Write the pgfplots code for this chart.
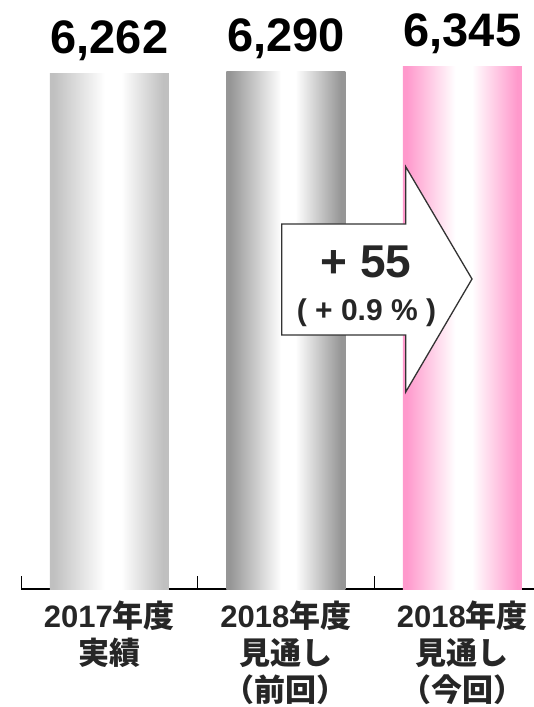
\documentclass[border=0pt]{standalone}
\usepackage{pgfplots}
\pgfplotsset{compat=1.18}
\usepackage{fontspec}
\setmainfont{Liberation Sans}
\newfontfamily\cjk{Noto Sans CJK JP}
\definecolor{gA}{RGB}{192,192,192}
\definecolor{gB}{RGB}{150,150,150}
\definecolor{pC}{RGB}{255,153,204}
\definecolor{txt}{RGB}{38,38,38}
\definecolor{arr}{RGB}{51,51,51}
\pgfdeclarehorizontalshading{barA}{100bp}{color(0bp)=(gA); color(26.5bp)=(gA); color(48bp)=(white); color(55bp)=(white); color(72.5bp)=(gA); color(100bp)=(gA)}
\pgfdeclarehorizontalshading{barB}{100bp}{color(0bp)=(gB); color(26.5bp)=(gB); color(48bp)=(white); color(54bp)=(white); color(73bp)=(gB); color(100bp)=(gB)}
\pgfdeclarehorizontalshading{barC}{100bp}{color(0bp)=(pC); color(26.5bp)=(pC); color(47bp)=(white); color(54bp)=(white); color(73bp)=(pC); color(100bp)=(pC)}
\begin{document}
\begin{tikzpicture}
\useasboundingbox (0,0) rectangle (534pt,707pt);
\begin{axis}[
  at={(21.2pt,117.7pt)}, anchor=south west,
  scale only axis, width=512.8pt, height=589.3pt,
  xmin=-0.5, xmax=2.4054, ymin=403, ymax=7103.4,
  axis x line*=bottom, axis y line=none,
  axis line style={line width=2.4pt, black},
  xtick={0,1,2},
  xticklabels={
    {2017{\cjk 年度}\\{\cjk 実績}},
    {2018{\cjk 年度}\\{\cjk 見通し}\\{\cjk （前回）}},
    {2018{\cjk 年度}\\{\cjk 見通し}\\{\cjk （今回）}}},
  minor xtick={-0.5,0.5,1.5},
  tick align=inside,
  major tick length=0pt,
  minor tick length=13pt,
  minor tick style={line width=1.4pt, black},
  ytick=\empty,
  xticklabel style={align=center, anchor=north, text=txt, yshift=-8pt,
    font=\fontsize{31}{37}\selectfont\bfseries},
  every node near coord/.append style={anchor=base, yshift=20pt, inner sep=0pt,
    text=black, font=\fontsize{47}{50}\selectfont\bfseries},
]
\addplot[ybar, bar width=119pt, bar shift=0pt, draw=none, shade, shading=barA] coordinates {(0,6262)};
\addplot[ybar, bar width=119pt, bar shift=0pt, draw=none, shade, shading=barB] coordinates {(1,6290)};
\addplot[ybar, bar width=119pt, bar shift=0pt, draw=none, shade, shading=barC] coordinates {(2,6345)};
\addplot[draw=none, mark=none, nodes near coords={\pgfmathprintnumber[fixed, precision=0, 1000 sep={,}, assume math mode=true]{\pgfplotspointmeta}}] coordinates {(0,6262) (1,6290) (2,6345)};
\end{axis}
\draw[fill=white, draw=arr, line width=1.3pt, line join=miter]
  (281.7pt,483pt) -- (405.7pt,483pt) -- (405.7pt,540.3pt) -- (472pt,428pt)
  -- (405.7pt,315pt) -- (405.7pt,372pt) -- (281.7pt,372pt) -- cycle;
\node[anchor=base, inner sep=0pt, text=txt, font=\fontsize{46}{50}\selectfont\bfseries] at (366pt,429pt) {+ 55};
\node[anchor=base, inner sep=0pt, text=txt, font=\fontsize{30}{34}\selectfont\bfseries] at (366.5pt,386.3pt) {( + 0.9 \% )};
\end{tikzpicture}
\end{document}
